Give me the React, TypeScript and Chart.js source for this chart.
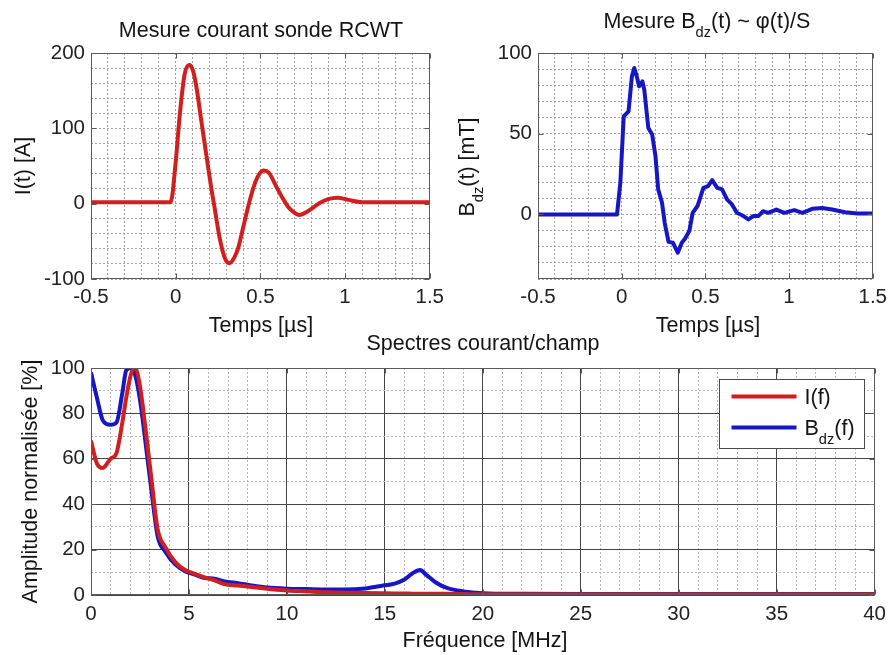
import React, { useEffect, useRef } from 'react';
import { Chart, registerables } from 'chart.js';

Chart.register(...registerables);

const FONT = '"Liberation Sans", Arial, Helvetica, sans-serif';

// ---------- Data: current probe I(t) ----------
const timeI = [-0.5, -0.3, -0.1, -0.03, 0.0, 0.025, 0.053, 0.08, 0.1, 0.12, 0.15, 0.18, 0.205, 0.23, 0.26, 0.29, 0.318, 0.345, 0.37, 0.4, 0.43, 0.46, 0.49, 0.52, 0.55, 0.6, 0.63, 0.66, 0.69, 0.73, 0.78, 0.85, 0.9, 0.955, 1.02, 1.1, 1.2, 1.35, 1.5];
const currentI = [2, 2, 2, 2, 55, 120, 172, 184, 178, 158, 112, 66, 28, -6, -46, -72, -79, -72, -58, -30, -2, 22, 38, 44, 41, 20, 8, -3, -10, -15, -10, 1, 6, 8, 5, 2, 2, 2, 2];

// ---------- Data: field Bdz(t) ----------
const timeB = [-0.5, -0.028, -0.008, 0.012, 0.041, 0.061, 0.075, 0.09, 0.104, 0.124, 0.135, 0.159, 0.182, 0.202, 0.218, 0.241, 0.257, 0.28, 0.306, 0.335, 0.359, 0.378, 0.404, 0.424, 0.453, 0.488, 0.516, 0.541, 0.571, 0.6, 0.629, 0.659, 0.688, 0.728, 0.757, 0.786, 0.816, 0.845, 0.875, 0.924, 0.972, 1.031, 1.08, 1.139, 1.198, 1.257, 1.335, 1.41, 1.5];
const fieldB = [0, 0, 19.6, 60.8, 63.9, 85.5, 90.7, 85.5, 79.4, 82.4, 77.3, 53.6, 49.5, 36, 15.5, 7.2, -5.2, -17, -17.5, -23.7, -17.5, -15, -10.3, 1, 5.2, 16.5, 17.5, 21.2, 16.5, 15.5, 9.3, 6.2, 1, -1, -3.1, -1, -1, 2, 1, 3, 1, 2.7, 1, 3.5, 4, 3, 1.4, 0.6, 0.5];

// ---------- Data: spectra ----------
const freqMHz = [0, 0.3, 0.6, 1.0, 1.3, 1.6, 1.8, 2.05, 2.25, 2.5, 2.8, 3.1, 3.4, 3.8, 4.3, 4.8, 5.3, 5.8, 6.3, 6.8, 7.5, 8.2, 9, 10, 11, 12, 13, 14, 14.8, 15.5, 16, 16.4, 16.8, 17.1, 17.6, 18.2, 19, 20, 22, 25, 30, 35, 40];
const spectrumI = [68, 58, 56, 60, 62.5, 76, 87, 97.5, 100, 92, 72, 50, 29, 21, 14.5, 11, 9.3, 7.8, 6.5, 4.8, 4.2, 3.5, 2.8, 2, 1.6, 1.2, 1, 0.9, 0.8, 0.7, 0.7, 0.6, 0.6, 0.6, 0.5, 0.5, 0.4, 0.3, 0.3, 0.3, 0.3, 0.3, 0.3];
const spectrumB = [98, 87, 77, 75, 76, 89, 99, 100, 97, 86, 66, 45, 26, 19, 13.5, 10.5, 9, 7.5, 7.2, 6, 5.2, 4.2, 3.3, 2.8, 2.6, 2.4, 2.4, 2.9, 4, 5, 6.8, 9.5, 11, 9, 5.5, 3, 1.6, 0.8, 0.5, 0.4, 0.4, 0.4, 0.4];

// ---------- Tick labels ----------
const timeTickValues = [-0.5, 0, 0.5, 1, 1.5];
const timeTickLabels = ['-0.5', '0', '0.5', '1', '1.5'];
const currentTickValues = [-100, 0, 100, 200];
const currentTickLabels = ['-100', '0', '100', '200'];
const fieldTickValues = [0, 50, 100];
const fieldTickLabels = ['0', '50', '100'];
const freqTickValues = [0, 5, 10, 15, 20, 25, 30, 35, 40];
const freqTickLabels = ['0', '5', '10', '15', '20', '25', '30', '35', '40'];
const ampTickValues = [0, 20, 40, 60, 80, 100];
const ampTickLabels = ['0', '20', '40', '60', '80', '100'];

const seriesLabels = ['I(f)', 'B_{dz}(f)'];

const RED = '#d11f1f';
const BLUE = '#1616c4';

const near = (a: number, b: number) => Math.abs(a - b) < 1e-6;
const labelFor = (vals: number[], labels: string[]) => (v: any) => {
  const n = Number(v);
  for (let i = 0; i < vals.length; i++) if (near(n, vals[i])) return labels[i];
  return '';
};
const isMult = (v: number, step: number) => near(v / step, Math.round(v / step));

type Seg = { t: string; sub?: boolean };
function parseRich(s: string): Seg[] {
  const out: Seg[] = [];
  const re = /_\{([^}]*)\}/g;
  let last = 0;
  let m: RegExpExecArray | null;
  while ((m = re.exec(s))) {
    if (m.index > last) out.push({ t: s.slice(last, m.index) });
    if (m[1]) out.push({ t: m[1], sub: true });
    last = re.lastIndex;
  }
  if (last < s.length) out.push({ t: s.slice(last) });
  return out;
}

function drawRich(ctx: CanvasRenderingContext2D, text: string, x: number, y: number, size: number, rotate = false, align: 'center' | 'left' = 'center') {
  const segs = parseRich(text);
  const main = `${size}px ${FONT}`;
  const sub = `${(size * 0.68).toFixed(1)}px ${FONT}`;
  ctx.save();
  ctx.fillStyle = '#141414';
  ctx.textBaseline = 'alphabetic';
  ctx.textAlign = 'left';
  const widths: number[] = [];
  let total = 0;
  for (const s of segs) {
    ctx.font = s.sub ? sub : main;
    const w = ctx.measureText(s.t).width;
    widths.push(w);
    total += w;
  }
  ctx.translate(x, y);
  if (rotate) ctx.rotate(-Math.PI / 2);
  let cx = align === 'center' ? -total / 2 : 0;
  segs.forEach((s, i) => {
    ctx.font = s.sub ? sub : main;
    ctx.fillText(s.t, cx, s.sub ? size * 0.44 : 0);
    cx += widths[i];
  });
  ctx.restore();
}

type TextItem = { text: string; x: number; y: number; size: number; rotate?: boolean };
type PanelCfg = {
  texts: TextItem[];
  xMajor: number[];
  yMajor: number[];
  legend?: boolean;
};

function makeFigurePlugin(cfg: PanelCfg) {
  return {
    id: 'figureDecor',
    afterDraw(chart: any) {
      const ctx: CanvasRenderingContext2D = chart.ctx;
      const ca = chart.chartArea;
      const xs = chart.scales.x;
      const ys = chart.scales.y;
      ctx.save();
      ctx.strokeStyle = '#5a5a5a';
      ctx.lineWidth = 1;
      const L = Math.round(ca.left) + 0.5;
      const R = Math.round(ca.right) - 0.5;
      const T = Math.round(ca.top) + 0.5;
      const B = Math.round(ca.bottom) - 0.5;
      ctx.beginPath();
      for (const v of cfg.xMajor) {
        const p = Math.round(xs.getPixelForValue(v)) + 0.5;
        ctx.moveTo(p, T); ctx.lineTo(p, T + 5);
        ctx.moveTo(p, B); ctx.lineTo(p, B - 5);
      }
      for (const v of cfg.yMajor) {
        const p = Math.round(ys.getPixelForValue(v)) + 0.5;
        ctx.moveTo(L, p); ctx.lineTo(L + 5, p);
        ctx.moveTo(R, p); ctx.lineTo(R - 5, p);
      }
      ctx.stroke();
      ctx.strokeRect(L, T, R - L, B - T);
      ctx.restore();

      for (const it of cfg.texts) drawRich(ctx, it.text, it.x, it.y, it.size, !!it.rotate);

      if (cfg.legend) {
        const w = 145, h = 69;
        const bx = Math.round(ca.right - 11 - w) + 0.5;
        const by = Math.round(ca.top + 11) + 0.5;
        ctx.save();
        ctx.fillStyle = '#ffffff';
        ctx.fillRect(bx, by, w, h);
        ctx.strokeStyle = '#4a4a4a';
        ctx.lineWidth = 1;
        ctx.strokeRect(bx, by, w, h);
        chart.data.datasets.forEach((ds: any, i: number) => {
          const ly = by + 17 + i * 31;
          ctx.strokeStyle = ds.borderColor;
          ctx.lineWidth = 4;
          ctx.beginPath();
          ctx.moveTo(bx + 12, ly);
          ctx.lineTo(bx + 77, ly);
          ctx.stroke();
          drawRich(ctx, ds.label, bx + 85, ly + 7.5, 21.5, false, 'left');
        });
        ctx.restore();
      }
    },
  };
}

const tickFont = { family: FONT, size: 20.5 };
const TICK_COLOR = '#222222';
const MINOR_TOP = '#a4a4a4';
const MINOR = '#b6b6b6';
const MAJOR = '#454545';

function pts(xs: number[], ys: number[]) {
  return xs.map((x, i) => ({ x, y: ys[i] }));
}

function buildTopLeft(): any {
  return {
    type: 'line',
    data: {
      datasets: [{
        label: 'I(t)', data: pts(timeI, currentI), borderColor: RED, borderWidth: 4,
        pointRadius: 0, cubicInterpolationMode: 'monotone', borderJoinStyle: 'round', borderCapStyle: 'round',
      }],
    },
    options: {
      responsive: false, animation: false, events: [],
      layout: { padding: { left: 0, top: 53, right: 19, bottom: 0 } },
      plugins: { legend: { display: false }, tooltip: { enabled: false }, title: { display: false } },
      scales: {
        x: {
          type: 'linear', min: -0.5, max: 1.5,
          ticks: { stepSize: 0.1, autoSkip: false, maxRotation: 0, padding: 6, color: TICK_COLOR, font: tickFont, callback: labelFor(timeTickValues, timeTickLabels) },
          grid: { color: MINOR_TOP, lineWidth: 1, drawTicks: false },
          border: { display: false, dash: [2, 2] },
          afterFit: (s: any) => { s.height = 66; },
        },
        y: {
          type: 'linear', min: -100, max: 200,
          ticks: { stepSize: 20, autoSkip: false, padding: 6, color: TICK_COLOR, font: tickFont, callback: labelFor(currentTickValues, currentTickLabels) },
          grid: { color: MINOR_TOP, lineWidth: 1, drawTicks: false },
          border: { display: false, dash: [2, 2] },
          afterFit: (s: any) => { s.width = 91; },
        },
      },
    },
    plugins: [makeFigurePlugin({
      xMajor: timeTickValues, yMajor: currentTickValues,
      texts: [
        { text: 'Mesure courant sonde RCWT', x: 261, y: 37, size: 21.5 },
        { text: 'I(t) [A]', x: 30, y: 166, size: 21.5, rotate: true },
        { text: 'Temps [µs]', x: 261, y: 332, size: 21.5 },
      ],
    })],
  };
}

function buildTopRight(): any {
  return {
    type: 'line',
    data: {
      datasets: [{
        label: 'B_{dz}(t)', data: pts(timeB, fieldB), borderColor: BLUE, borderWidth: 4,
        pointRadius: 0, tension: 0, borderJoinStyle: 'round', borderCapStyle: 'round',
      }],
    },
    options: {
      responsive: false, animation: false, events: [],
      layout: { padding: { left: 0, top: 53, right: 15, bottom: 0 } },
      plugins: { legend: { display: false }, tooltip: { enabled: false }, title: { display: false } },
      scales: {
        x: {
          type: 'linear', min: -0.5, max: 1.5,
          ticks: { stepSize: 0.1, autoSkip: false, maxRotation: 0, padding: 6, color: TICK_COLOR, font: tickFont, callback: labelFor(timeTickValues, timeTickLabels) },
          grid: { color: MINOR_TOP, lineWidth: 1, drawTicks: false },
          border: { display: false, dash: [2, 2] },
          afterFit: (s: any) => { s.height = 66; },
        },
        y: {
          type: 'linear', min: -40, max: 100,
          ticks: { stepSize: 10, autoSkip: false, padding: 6, color: TICK_COLOR, font: tickFont, callback: labelFor(fieldTickValues, fieldTickLabels) },
          grid: { color: MINOR_TOP, lineWidth: 1, drawTicks: false },
          border: { display: false, dash: [2, 2] },
          afterFit: (s: any) => { s.width = 88; },
        },
      },
    },
    plugins: [makeFigurePlugin({
      xMajor: timeTickValues, yMajor: fieldTickValues,
      texts: [
        { text: 'Mesure B_{dz}(t) ~ φ(t)/S', x: 257, y: 27.5, size: 21.5 },
        { text: 'B_{dz}(t) [mT]', x: 24, y: 167, size: 21.5, rotate: true },
        { text: 'Temps [µs]', x: 258, y: 332, size: 21.5 },
      ],
    })],
  };
}

function buildBottom(): any {
  const gridColor = (step: number) => (c: any) => (c.tick && isMult(c.tick.value, step) ? MAJOR : MINOR);
  const gridDash = (step: number) => (c: any) => (c.tick && isMult(c.tick.value, step) ? [] : [2, 2]);
  return {
    type: 'line',
    data: {
      datasets: [
        {
          label: seriesLabels[0], data: pts(freqMHz, spectrumI), borderColor: RED, borderWidth: 4,
          pointRadius: 0, cubicInterpolationMode: 'monotone', borderJoinStyle: 'round',
        },
        {
          label: seriesLabels[1], data: pts(freqMHz, spectrumB), borderColor: BLUE, borderWidth: 4,
          pointRadius: 0, cubicInterpolationMode: 'monotone', borderJoinStyle: 'round',
        },
      ],
    },
    options: {
      responsive: false, animation: false, events: [],
      layout: { padding: { left: 0, top: 38, right: 15, bottom: 0 } },
      plugins: { legend: { display: false }, tooltip: { enabled: false }, title: { display: false } },
      scales: {
        x: {
          type: 'linear', min: 0, max: 40,
          ticks: { stepSize: 1, autoSkip: false, maxRotation: 0, padding: 7, color: TICK_COLOR, font: tickFont, callback: labelFor(freqTickValues, freqTickLabels) },
          grid: { color: gridColor(5), lineWidth: 1, drawTicks: false },
          border: { display: false, dash: gridDash(5) },
          afterFit: (s: any) => { s.height = 60; },
        },
        y: {
          type: 'linear', min: 0, max: 100,
          ticks: { stepSize: 10, autoSkip: false, padding: 6, color: TICK_COLOR, font: tickFont, callback: labelFor(ampTickValues, ampTickLabels) },
          grid: { color: gridColor(20), lineWidth: 1, drawTicks: false },
          border: { display: false, dash: gridDash(20) },
          afterFit: (s: any) => { s.width = 91; },
        },
      },
    },
    plugins: [makeFigurePlugin({
      xMajor: freqTickValues, yMajor: ampTickValues, legend: true,
      texts: [
        { text: 'Spectres courant/champ', x: 483, y: 20, size: 21.5 },
        { text: 'Amplitude normalisée [%]', x: 37, y: 151.5, size: 21.5, rotate: true },
        { text: 'Fréquence [MHz]', x: 485, y: 316.5, size: 21.5 },
      ],
    })],
  };
}

function Panel({ left, top, width, height, build }: { left: number; top: number; width: number; height: number; build: () => any }) {
  const ref = useRef<HTMLCanvasElement>(null);
  useEffect(() => {
    if (!ref.current) return;
    const chart = new Chart(ref.current, build());
    return () => chart.destroy();
  }, []);
  return (
    <canvas
      ref={ref}
      width={width}
      height={height}
      style={{ position: 'absolute', left, top, width, height }}
    />
  );
}

export default function App() {
  return (
    <div style={{ position: 'absolute', left: 0, top: 0, width: 893, height: 655, background: '#ffffff', overflow: 'hidden' }}>
      <Panel left={0} top={330} width={893} height={325} build={buildBottom} />
      <Panel left={0} top={0} width={450} height={345} build={buildTopLeft} />
      <Panel left={450} top={0} width={443} height={345} build={buildTopRight} />
    </div>
  );
}
